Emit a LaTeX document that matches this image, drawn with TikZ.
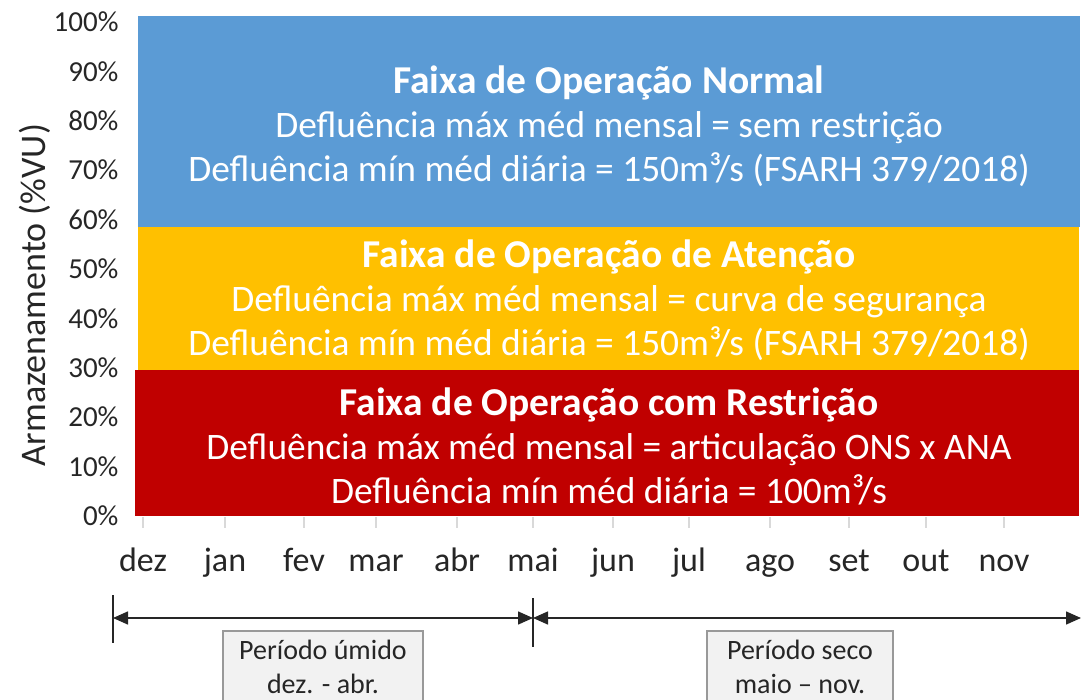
\documentclass[tikz,border=0pt]{standalone}
\usepackage{fontspec}
\setmainfont{Carlito}
\usetikzlibrary{arrows.meta,positioning}
\definecolor{bandblue}{HTML}{5B9BD5}
\definecolor{bandyellow}{HTML}{FFC000}
\definecolor{bandred}{HTML}{C00000}
\definecolor{boxgray}{HTML}{F2F2F2}
\newcommand{\bandfont}{\fontsize{39.5}{44}\selectfont\bfseries}

\begin{document}
\begin{tikzpicture}[
  x=1pt, y=-1pt,
  band/.style={rectangle, inner sep=0pt, anchor=north west},
  bandtext/.style={text=white, align=center, font=\fontsize{37.4}{44}\selectfont},
  ylab/.style={anchor=east, font=\fontsize{29}{30}\selectfont, text=black!85},
  month/.style={anchor=base, font=\fontsize{34}{36}\selectfont, text=black!85},
  tickm/.style={draw=black!15, line width=2pt},
  dim/.style={{Triangle[length=15pt, width=13pt]}-{Triangle[length=15pt, width=13pt]},
              line width=1.5pt, black!85},
  bar/.style={line width=1.5pt, black!85},
  period/.style={rectangle, draw=black!40, fill=boxgray, line width=1.5pt,
                 align=center, anchor=north, inner xsep=4pt, inner ysep=9pt,
                 font=\fontsize{28}{34}\selectfont, text=black!85}
]
\clip (0,0) rectangle (1081,700);

%% Operating bands
\node[band, fill=bandblue,   minimum width=942pt, minimum height=211pt] (normal)    at (138,16)  {};
\node[band, fill=bandyellow, minimum width=941pt, minimum height=143pt] (atencao)   at (138,227) {};
\node[band, fill=bandred,    minimum width=944pt, minimum height=146pt] (restricao) at (135,370) {};

%% Band texts
\node[bandtext] (normaltxt) at (609,126)
  {{\bandfont Faixa de Operação Normal}\\Defluência máx méd mensal = sem restrição\\Defluência mín méd diária = 150m³/s (FSARH 379/2018)};
\node[bandtext] (atencaotxt) at (609,300)
  {{\bandfont Faixa de Operação de Atenção}\\Defluência máx méd mensal = curva de segurança\\Defluência mín méd diária = 150m³/s (FSARH 379/2018)};
\node[bandtext] (restricaotxt) at (609,446)
  {{\bandfont Faixa de Operação com Restrição}\\Defluência máx méd mensal = articulação ONS x ANA\\Defluência mín méd diária = 100m³/s};

%% Vertical axis
\foreach \p in {0,10,...,100}
  \node[ylab] (y\p) at (122,{516-4.94*\p}) {\p\%};
\node[rotate=90, font=\fontsize{36}{38}\selectfont, text=black!85] (ytitle) at (35,295) {Armazenamento (\%VU)};

%% Months
\foreach \x/\m in {143/dez,225/jan,304/fev,376/mar,457/abr,533/mai,613/jun,689/jul,770/ago,849/set,926/out,1004/nov} {
  \draw[tickm] (\x,517) -- (\x,528);
  \node[month] (m\m) at (\x,571) {\m};
}

%% Seasons
\coordinate (wetstart) at (113,618);
\coordinate (seasonsplit) at (533,618);
\coordinate (dryend) at (1081,618);
\draw[dim] (wetstart) -- (seasonsplit);
\draw[dim] (seasonsplit) -- (dryend);
\draw[bar] ([yshift=23pt]wetstart) -- ([yshift=-25pt]wetstart);
\draw[bar] ([yshift=20pt]seasonsplit) -- ([yshift=-29pt]seasonsplit);

\node[period, minimum width=200pt] (umido) at (323,630) {Período úmido\\dez. - abr.};
\node[period, minimum width=186pt] (seco)  at (800,630) {Período seco\\maio – nov.};

\end{tikzpicture}
\end{document}
